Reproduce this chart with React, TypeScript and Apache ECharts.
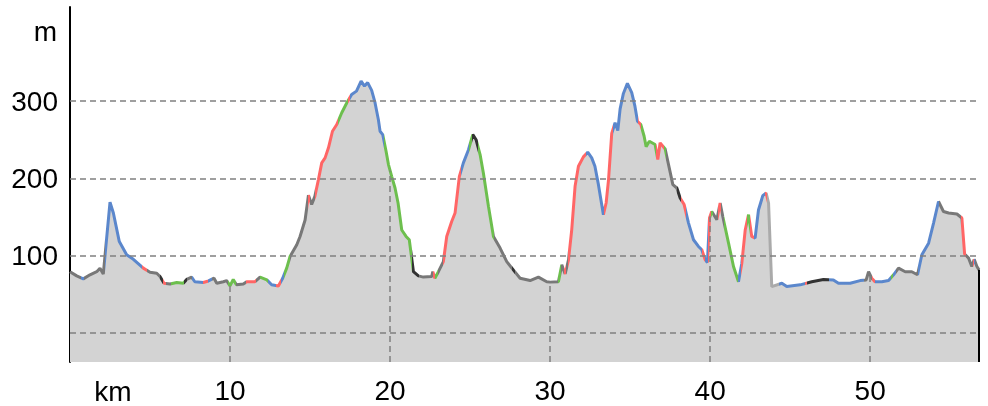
import React, { useEffect, useRef } from 'react';
import * as echarts from 'echarts';

const kmValues = [
  0, 0.42, 0.83, 1.25, 1.67, 1.875, 2.08, 2.5, 2.71, 3.08, 3.54, 3.96, 4.58, 5.0, 5.42, 5.625, 5.875, 6.25, 6.67, 7.08,
  7.29, 7.6, 7.8, 8.33, 8.65, 9.0, 9.17, 9.58, 9.79, 10.0, 10.2, 10.4, 10.83, 11.04, 11.56, 11.875, 12.3, 12.6, 13.02, 13.29,
  13.54, 13.75, 14.17, 14.375, 14.69, 14.9, 15.1, 15.3, 15.52, 15.73, 15.94, 16.15, 16.4, 16.67, 16.98, 17.3, 17.6, 17.9, 18.19, 18.4,
  18.6, 18.85, 19.06, 19.27, 19.375, 19.54, 19.75, 19.9, 20.1, 20.31, 20.5, 20.73, 21.0, 21.2, 21.46, 21.77, 22.08, 22.6, 22.67, 22.8,
  23.02, 23.33, 23.54, 23.85, 24.06, 24.33, 24.58, 24.9, 25.17, 25.375, 25.625, 25.83, 26.15, 26.46, 26.875, 27.29, 27.7, 28.125, 28.75, 29.27,
  29.79, 30.0, 30.52, 30.73, 30.94, 31.15, 31.35, 31.56, 31.77, 32.08, 32.35, 32.6, 32.8, 33.02, 33.33, 33.5, 33.65, 33.85, 34.06, 34.23,
  34.375, 34.58, 34.83, 35.1, 35.3, 35.46, 35.67, 35.875, 36.0, 36.2, 36.56, 36.73, 36.875, 37.19, 37.4, 37.67, 37.92, 38.125, 38.375, 38.65,
  38.96, 39.27, 39.48, 39.69, 39.83, 39.96, 40.1, 40.42, 40.625, 40.79, 41.15, 41.46, 41.77, 41.98, 42.19, 42.4, 42.6, 42.81, 43.02, 43.29,
  43.5, 43.65, 43.85, 44.48, 44.79, 45.625, 46.35, 47.08, 47.7, 48.02, 48.75, 49.375, 49.75, 49.9, 50.1, 50.3, 50.73, 51.15, 51.46, 51.77,
  52.19, 52.6, 52.96, 53.23, 53.65, 53.96, 54.27, 54.58, 54.9, 55.42, 55.73, 55.9, 56.15, 56.35, 56.5, 56.67, 56.8
];

const elevationValues = [
  79, 73.6, 69.7, 75, 79, 83.6, 76, 169, 155, 118, 101, 95, 83.6, 78.4, 77, 72.7, 64, 63, 65, 64,
  69, 72, 66, 65, 67, 70.6, 64, 66, 67.5, 60.6, 69, 62, 63, 66, 66, 72, 68.4, 62, 60.6, 70.6,
  83.6, 98.7, 114, 124.7, 146, 178, 166, 176.6, 198, 220, 226.5, 239.5, 261, 269.7, 285, 298, 308.7, 313, 326, 319.5,
  324, 314, 298, 276, 261, 256.7, 235, 217.8, 202.6, 187.5, 168, 133, 124.7, 120.4, 79, 73.6, 72, 72.7, 79, 70.6,
  79, 92, 124.7, 144, 155, 202.6, 220, 237, 256.7, 250, 230.8, 207, 163.6, 124.7, 109.6, 92, 81.4, 70.6, 67.5, 72,
  66, 65.5, 66, 88, 76, 94.4, 133, 189.6, 215.6, 227.8, 233.8, 226.5, 215.6, 191.8, 152.9, 168, 198, 258, 272, 262,
  290, 310, 323, 311, 293.5, 274, 269.7, 254.5, 240.8, 248, 243.8, 224.3, 246, 238, 217.8, 191.8, 187.5, 174.5, 166, 142,
  120.4, 111.7, 107.4, 94.4, 91, 148.6, 157, 146.4, 168, 150.6, 116, 85.7, 66, 90, 133, 153, 124.7, 122.6, 159, 177.5,
  181, 168, 59.7, 64, 59.7, 62, 66, 69, 68.4, 64, 64, 67.5, 68.4, 79, 70.6, 66, 66, 67.5, 75, 83.6,
  79, 79, 75, 101, 116, 142, 170, 157, 155, 153.8, 148.6, 102, 96.6, 85.7, 95, 85.7, 81.4
];

// segment colouring of the profile line (end km of each segment, colour key)
const segmentEnds = [
  0.7, 0.9, 2.2, 4.5, 4.8, 5.6, 5.8, 6.0, 6.3, 7.1, 7.3, 7.6, 8.3, 8.65, 8.9, 9.9, 10.4, 11.0, 11.6, 11.9,
  12.4, 12.9, 13.2, 13.4, 13.75, 14.85, 15.0, 15.3, 16.75, 17.4, 17.5, 19.6, 21.4, 21.8, 22.7, 22.8, 23.0, 23.3, 24.4, 24.95,
  25.1, 25.5, 26.5, 27.6, 27.8, 30.5, 30.7, 30.85, 31.0, 31.1, 32.25, 33.4, 33.9, 35.5, 35.65, 36.6, 37.1, 37.25, 37.9, 38.2,
  38.5, 39.5, 39.7, 39.85, 40.05, 40.2, 40.5, 40.7, 40.85, 41.75, 41.9, 42.3, 42.5, 42.75, 43.45, 43.55, 44.3, 45.95, 46.05, 47.4,
  49.6, 50.1, 50.3, 51.3, 51.4, 51.6, 53.0, 54.3, 55.7, 56.0, 56.4, 56.5, 56.55, 57
];
const segmentColors = [
  'G', 'B', 'G', 'B', 'R', 'G', 'D', 'R', 'G', 'Gr', 'D', 'G', 'B', 'R', 'B', 'G', 'Gr', 'G', 'R', 'G',
  'Gr', 'B', 'R', 'B', 'Gr', 'G', 'R', 'G', 'R', 'Gr', 'R', 'B', 'Gr', 'D', 'G', 'R', 'Gr', 'G', 'R', 'B',
  'Gr', 'D', 'Gr', 'G', 'D', 'G', 'Gr', 'G', 'R', 'G', 'R', 'B', 'R', 'B', 'R', 'Gr', 'R', 'Gr', 'G', 'D',
  'R', 'B', 'R', 'B', 'R', 'Gr', 'G', 'R', 'G', 'Gr', 'B', 'R', 'Gr', 'R', 'B', 'R', 'L', 'B', 'R', 'D',
  'B', 'G', 'R', 'B', 'Gr', 'B', 'G', 'B', 'G', 'R', 'G', 'R', 'B', 'G'
];

const yLabelValues = [100, 200, 300];
const xLabelValues = [10, 20, 30, 40, 50];
const horizontalGridLevels = [0, 100, 200, 300];
const verticalGridKm = [10, 20, 30, 40, 50];

const palette: Record<string, string> = {
  R: '#ff6666',
  B: '#5b87cc',
  Gr: '#6dbf4e',
  G: '#787878',
  D: '#333333',
  L: '#aaaaaa',
};

const FONT = '"Liberation Sans", Arial, sans-serif';
const FS = 28;

function elevationAt(km: number): number {
  for (let i = 1; i < kmValues.length; i++) {
    if (km <= kmValues[i]) {
      const t = (km - kmValues[i - 1]) / (kmValues[i] - kmValues[i - 1]);
      return elevationValues[i - 1] + t * (elevationValues[i] - elevationValues[i - 1]);
    }
  }
  return elevationValues[elevationValues.length - 1];
}

export default function App() {
  const ref = useRef<HTMLDivElement>(null);
  useEffect(() => {
    if (!ref.current) return;
    const chart = echarts.init(ref.current, null, { renderer: 'svg' });
    const data = kmValues.map((k, i) => [k, elevationValues[i]]);
    const xMax = kmValues[kmValues.length - 1];
    const yMin = -38;
    const yMax = 422;
    const pieces = segmentEnds.map((end, i) => ({
      gte: i === 0 ? -10 : segmentEnds[i - 1],
      lt: i === segmentEnds.length - 1 ? 100 : end,
      color: palette[segmentColors[i]],
    }));
    const gridStyle = { type: [6, 4] as any, color: '#808080', width: 1.5 };
    const markData: any[] = [];
    horizontalGridLevels.forEach((v) => {
      markData.push([{ coord: [0, v], lineStyle: gridStyle }, { coord: [xMax, v] }]);
    });
    verticalGridKm.forEach((k) => {
      markData.push([{ coord: [k, yMin], lineStyle: gridStyle }, { coord: [k, elevationAt(k)] }]);
    });
    markData.push([
      { coord: [xMax, yMin], lineStyle: { type: 'solid', color: '#000', width: 2 } },
      { coord: [xMax, elevationValues[elevationValues.length - 1]] },
    ]);

    chart.setOption({
      animation: false,
      grid: { left: 70, right: 9, top: 7, bottom: 44 },
      xAxis: {
        type: 'value',
        min: 0,
        max: xMax,
        interval: 10,
        axisLine: { show: true, lineStyle: { color: '#000', width: 2 } },
        axisTick: { show: false },
        splitLine: { show: false },
        axisLabel: {
          margin: 14,
          color: '#000',
          fontSize: FS,
          fontFamily: FONT,
          formatter: (v: number) => (xLabelValues.includes(v) ? String(v) : ''),
        },
      },
      yAxis: {
        type: 'value',
        min: yMin,
        max: yMax,
        axisLine: { show: true, lineStyle: { color: '#000', width: 2 } },
        axisTick: { show: false },
        splitLine: { show: false },
        axisLabel: {
          margin: 12,
          color: '#000',
          fontSize: FS,
          fontFamily: FONT,
          padding: [5, 0, 0, 0],
          formatter: (v: number) => (yLabelValues.includes(v) ? String(v) : ''),
        },
      },
      visualMap: {
        type: 'piecewise',
        show: false,
        dimension: 0,
        seriesIndex: 1,
        pieces,
      },
      graphic: [
        {
          type: 'text',
          x: 57,
          y: 31,
          style: { text: 'm', fill: '#000', font: `${FS}px ${FONT}`, align: 'right', verticalAlign: 'middle' },
        },
        {
          type: 'text',
          x: 113,
          y: 391,
          style: { text: 'km', fill: '#000', font: `${FS}px ${FONT}`, align: 'center', verticalAlign: 'middle' },
        },
      ],
      series: [
        {
          type: 'line',
          data,
          symbol: 'none',
          silent: true,
          lineStyle: { width: 0, opacity: 0 },
          areaStyle: { color: '#d3d3d3', opacity: 1, origin: 'start' },
          z: 1,
          markLine: {
            silent: true,
            symbol: ['none', 'none'],
            label: { show: false },
            animation: false,
            data: markData,
          },
        },
        {
          type: 'line',
          data,
          symbol: 'none',
          silent: true,
          lineStyle: { width: 3 },
          z: 3,
        },
      ],
    });
    return () => chart.dispose();
  }, []);
  return <div ref={ref} style={{ position: 'fixed', left: 0, top: 0, width: 988, height: 406 }} />;
}
